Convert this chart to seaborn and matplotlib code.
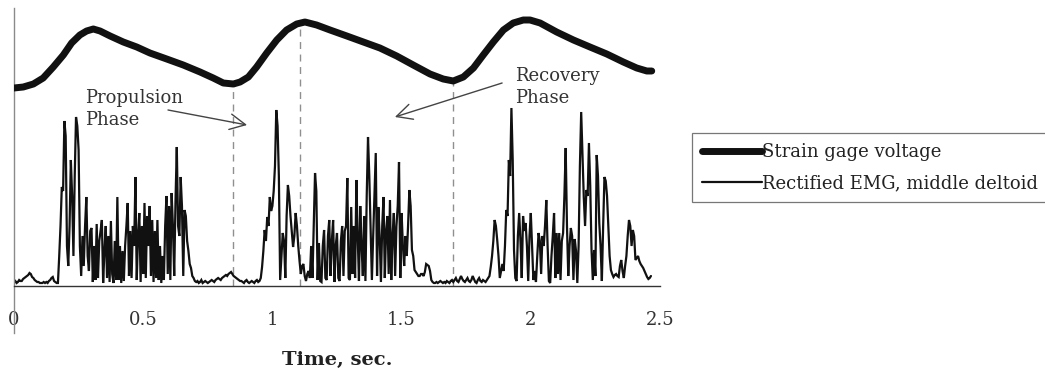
import numpy as np
import pandas as pd
import matplotlib
matplotlib.use("Agg")
import matplotlib.pyplot as plt
import seaborn as sns

# Strain gage voltage (thick trace), sampled at the listed times
strain_t = [0.000, 0.036, 0.075, 0.113, 0.152, 0.191, 0.223, 0.255, 0.281, 0.307,
            0.333, 0.372, 0.423, 0.475, 0.526, 0.591, 0.655, 0.720, 0.771, 0.810,
            0.849, 0.875, 0.907, 0.939, 0.978, 1.017, 1.055, 1.094, 1.126, 1.171,
            1.223, 1.288, 1.352, 1.416, 1.481, 1.545, 1.610, 1.661, 1.700, 1.739,
            1.778, 1.816, 1.855, 1.894, 1.932, 1.971, 1.997, 2.036, 2.100, 2.165,
            2.229, 2.294, 2.358, 2.410, 2.449, 2.468]
strain_v = [1.98, 1.99, 2.02, 2.08, 2.19, 2.31, 2.43, 2.51, 2.55, 2.57,
            2.55, 2.50, 2.44, 2.39, 2.33, 2.27, 2.21, 2.14, 2.08, 2.03,
            2.02, 2.04, 2.09, 2.19, 2.33, 2.46, 2.56, 2.62, 2.64, 2.61,
            2.56, 2.50, 2.44, 2.38, 2.30, 2.21, 2.12, 2.07, 2.05, 2.09,
            2.18, 2.31, 2.44, 2.56, 2.63, 2.66, 2.66, 2.63, 2.54, 2.46,
            2.39, 2.32, 2.24, 2.18, 2.15, 2.15]

# Rectified EMG of the middle deltoid, one value every 5 ms
# (each row below spans 0.1 s; values in hundredths of the plotted unit)
emg_dt = 0.005
emg_rows = [
    [4, 5, 3, 4, 6, 5, 5, 7, 8, 9, 10, 11, 13, 12, 9, 8, 6, 5, 4, 4],
    [3, 3, 3, 4, 3, 4, 3, 5, 6, 8, 9, 5, 4, 3, 3, 30, 60, 99, 95, 165],
    [150, 40, 20, 60, 126, 90, 30, 110, 169, 160, 136, 40, 10, 50, 20, 60, 89, 30, 15, 55],
    [58, 4, 40, 6, 62, 8, 45, 55, 66, 3, 35, 60, 8, 50, 4, 65, 12, 3, 45, 6],
    [89, 6, 40, 3, 35, 5, 40, 60, 83, 10, 55, 8, 60, 40, 109, 6, 50, 73, 4, 60],
    [12, 83, 8, 70, 40, 80, 10, 66, 4, 55, 8, 66, 6, 40, 3, 30, 6, 60, 90, 12],
    [80, 6, 93, 60, 10, 85, 139, 60, 50, 109, 80, 10, 76, 70, 45, 35, 22, 18, 10, 8],
    [5, 4, 5, 3, 4, 6, 3, 4, 5, 4, 3, 4, 5, 6, 5, 4, 6, 7, 8, 7],
    [6, 8, 9, 10, 11, 10, 12, 13, 14, 12, 10, 9, 8, 7, 6, 5, 5, 4, 3, 5],
    [6, 4, 3, 4, 5, 4, 3, 5, 6, 4, 5, 8, 19, 35, 56, 45, 69, 60, 89, 75],
    [80, 95, 120, 176, 160, 110, 6, 30, 53, 45, 8, 70, 101, 90, 70, 55, 39, 50, 73, 60],
    [40, 25, 12, 20, 22, 10, 5, 12, 15, 8, 40, 8, 60, 113, 95, 6, 43, 5, 4, 40],
    [56, 8, 6, 50, 66, 10, 45, 66, 4, 40, 53, 8, 5, 45, 60, 10, 55, 60, 108, 8],
    [6, 79, 12, 60, 8, 106, 50, 5, 80, 40, 10, 70, 5, 90, 149, 110, 60, 6, 50, 90],
    [133, 10, 79, 50, 4, 60, 89, 8, 55, 70, 12, 86, 6, 50, 73, 10, 60, 80, 124, 8],
    [73, 40, 20, 50, 30, 60, 96, 80, 36, 30, 16, 14, 12, 10, 10, 12, 12, 10, 14, 22],
    [21, 20, 15, 6, 4, 3, 3, 4, 3, 4, 5, 4, 3, 4, 3, 5, 4, 3, 5, 6],
    [4, 6, 8, 5, 4, 7, 10, 7, 5, 4, 6, 8, 5, 4, 6, 10, 7, 4, 3, 6],
    [8, 5, 4, 6, 5, 4, 6, 8, 10, 19, 30, 45, 66, 60, 46, 30, 8, 15, 22, 15],
    [40, 76, 70, 126, 110, 178, 126, 36, 8, 5, 50, 73, 45, 8, 70, 55, 63, 40, 5, 50],
    [73, 40, 6, 15, 4, 30, 53, 45, 12, 50, 40, 60, 86, 40, 5, 3, 30, 50, 73, 8],
    [53, 12, 53, 6, 45, 53, 90, 138, 60, 10, 40, 58, 50, 6, 47, 35, 3, 40, 120, 174],
    [130, 89, 60, 96, 90, 143, 100, 36, 6, 36, 10, 131, 110, 63, 40, 5, 60, 109, 105, 90],
    [59, 30, 16, 12, 9, 11, 12, 10, 9, 20, 26, 15, 8, 20, 30, 50, 66, 60, 40, 56],
    [50, 26, 28, 30, 25, 22, 20, 18, 15, 12, 9, 7, 8, 10],
]
emg_scale = 0.01

# Phase boundaries (dashed markers)
phase_t = [0.847, 1.107, 1.700]

x_ticks = [0, 0.5, 1, 1.5, 2, 2.5]
x_tick_labels = ["0", "0.5", "1", "1.5", "2", "2.5"]
series_names = ["Strain gage voltage", "Rectified EMG, middle deltoid"]

sns.set_style("white")
plt.rcParams["font.family"] = ["DejaVu Serif"]
plt.rcParams["font.size"] = 13

emg_v = np.concatenate([np.asarray(r, dtype=float) for r in emg_rows]) * emg_scale
strain_df = pd.DataFrame({"t": strain_t, "v": strain_v})
emg_df = pd.DataFrame({"t": np.arange(len(emg_v)) * emg_dt, "v": emg_v})

fig = plt.figure(figsize=(10.45, 3.76), dpi=100)
ax = fig.add_axes([14 / 1045, 43 / 376, 646 / 1045, 325 / 376])

# dashed phase markers from the axis up to the strain trace
tops = np.interp(phase_t, strain_t, strain_v)
ax.vlines(phase_t, 0, tops, colors="#8f8f8f", linestyles=(0, (5, 4)), lw=1.0, zorder=1)

sns.lineplot(data=strain_df, x="t", y="v", ax=ax, color="#111111", lw=5.0,
             solid_capstyle="round", solid_joinstyle="round",
             label=series_names[0], zorder=3)
sns.lineplot(data=emg_df, x="t", y="v", ax=ax, color="#111111", lw=1.6,
             solid_joinstyle="miter", label=series_names[1], zorder=2)

ax.set_xlim(0, 2.5)
ax.set_ylim(-0.47, 2.78)
ax.spines["bottom"].set_position(("data", 0))
ax.spines["bottom"].set_color("#333333")
ax.spines["bottom"].set_linewidth(1.0)
ax.spines["left"].set_color("#8a8a8a")
ax.spines["left"].set_linewidth(1.0)
ax.spines["top"].set_visible(False)
ax.spines["right"].set_visible(False)

ax.set_xticks(x_ticks)
ax.set_xticklabels(x_tick_labels)
ax.set_yticks([])
ax.tick_params(axis="x", direction="inout", length=12, width=1.0,
               colors="#333333", pad=12, labelsize=13, labelcolor="#333333")
ax.set_xlabel("Time, sec.", fontweight="bold", fontsize=14, color="#222222",
              labelpad=16)
ax.set_ylabel("")

# phase annotations
ax.text(0.275, 1.77, "Propulsion\nPhase", ha="left", va="center", fontsize=13,
        color="#333333", linespacing=1.35)
ax.annotate("", xy=(0.902, 1.61), xytext=(0.596, 1.76),
            arrowprops=dict(arrowstyle="->", lw=1.0, color="#444444",
                            mutation_scale=28, shrinkA=0, shrinkB=0))
ax.text(1.939, 1.99, "Recovery\nPhase", ha="left", va="center", fontsize=13,
        color="#333333", linespacing=1.35)
ax.annotate("", xy=(1.474, 1.69), xytext=(1.889, 2.03),
            arrowprops=dict(arrowstyle="->", lw=1.0, color="#444444",
                            mutation_scale=28, shrinkA=0, shrinkB=0))

handles, labels = ax.get_legend_handles_labels()
ax.get_legend().remove()
leg = fig.legend(handles, labels, loc="upper left",
                 bbox_to_anchor=(692 / 1045, 1 - 133 / 376), borderaxespad=0,
                 fancybox=False, frameon=True, fontsize=13, handlelength=3.3,
                 handletextpad=0.0, borderpad=0.55, labelspacing=0.75)
leg.get_frame().set_edgecolor("#555555")
leg.get_frame().set_linewidth(0.9)
for txt in leg.get_texts():
    txt.set_color("#222222")

fig.savefig("out.png", dpi=100)
